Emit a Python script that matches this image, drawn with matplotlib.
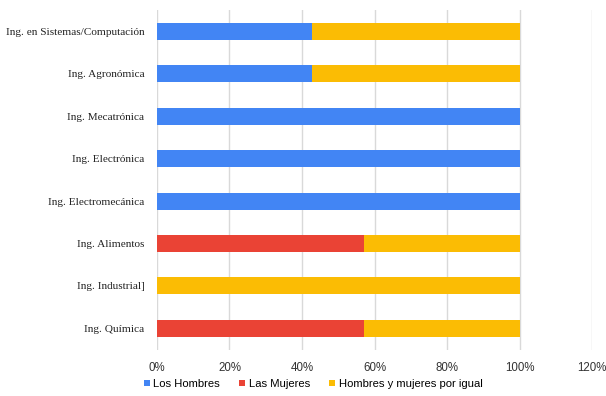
import matplotlib
matplotlib.use("Agg")
import matplotlib.pyplot as plt
import numpy as np

categories = [
    "Ing. en Sistemas/Computación",
    "Ing. Agronómica",
    "Ing. Mecatrónica",
    "Ing. Electrónica",
    "Ing. Electromecánica",
    "Ing. Alimentos",
    "Ing. Industrial]",
    "Ing. Química",
]
hombres = [3 / 7, 3 / 7, 1.0, 1.0, 1.0, 0.0, 0.0, 0.0]
mujeres = [0.0, 0.0, 0.0, 0.0, 0.0, 4 / 7, 0.0, 4 / 7]
igual = [4 / 7, 4 / 7, 0.0, 0.0, 0.0, 3 / 7, 1.0, 3 / 7]

series_labels = ["Los Hombres", "Las Mujeres", "Hombres y mujeres por igual"]
colors = ["#4285F4", "#EA4335", "#FBBC04"]
x_ticks = [0, 0.2, 0.4, 0.6, 0.8, 1.0, 1.2]

fig = plt.figure(figsize=(6.06, 3.96), dpi=100)
ax = fig.add_axes([0.259, 0.117, 0.718, 0.858])

y = np.arange(len(categories))
left = np.zeros(len(categories))
for vals, lab, col in zip([hombres, mujeres, igual], series_labels, colors):
    ax.barh(y, vals, left=left, height=0.4, color=col, label=lab, zorder=3)
    left += np.array(vals)

ax.set_ylim(len(categories) - 0.5, -0.5)
ax.set_xlim(0, 1.2)
ax.set_yticks(y)
ax.set_yticklabels(categories, fontfamily="Liberation Serif", fontsize=8.1, color="#222222")
ax.set_xticks(x_ticks)
ax.set_xticklabels([f"{int(round(t * 100))}%" for t in x_ticks],
                   fontfamily="Liberation Sans", fontsize=8.3, color="#333333")
ax.tick_params(axis="y", length=0, pad=9)
ax.tick_params(axis="x", length=0, pad=9)
ax.grid(True, axis="x", color="#d9d9d9", linewidth=1, zorder=0)
ax.grid(False, axis="y")
for s in ax.spines.values():
    s.set_visible(False)

handles, labels = ax.get_legend_handles_labels()
fig.legend(handles, labels, loc="center", bbox_to_anchor=(313 / 606, 12 / 396), ncol=3,
           frameon=False, prop={"family": "Liberation Sans", "size": 8.1},
           handlelength=0.55, handleheight=0.55, handletextpad=0.3, columnspacing=1.7)

fig.savefig("out.png", dpi=100)
